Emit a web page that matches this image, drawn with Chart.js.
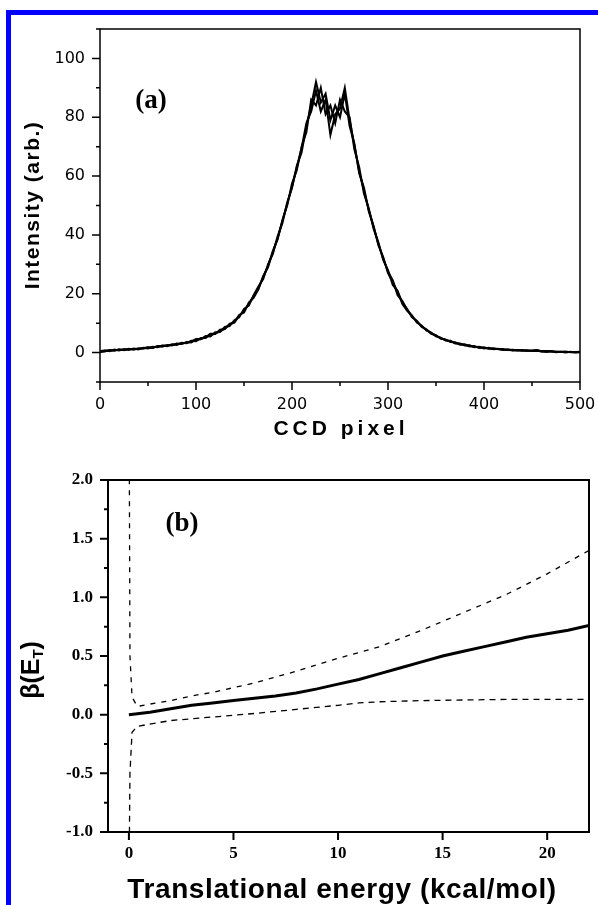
<!DOCTYPE html>
<html><head><meta charset="utf-8">
<script src="https://cdn.jsdelivr.net/npm/chart.js@4.4.1/dist/chart.umd.min.js"></script>
<style>
html,body{margin:0;padding:0;background:#fff;overflow:hidden;width:598px;height:905px}
#frame{position:absolute;left:6px;top:10px;width:700px;height:1000px;border-left:5px solid #0000ff;border-top:5px solid #0000ff;box-sizing:border-box}
#ca{position:absolute;left:0;top:0}
#cb{position:absolute;left:0;top:440px}
</style></head><body>
<div id="frame"></div>
<canvas id="ca" width="598" height="450"></canvas>
<canvas id="cb" width="598" height="465"></canvas>
<script>
// ---------- Panel (a) data ----------
const pixel = [0,5,10,15,20,25,30,35,40,45,50,55,60,65,70,75,80,85,90,95,100,105,110,115,120,125,130,135,140,145,150,155,160,165,170,175,180,185,190,195,200,205,210,215,220,225,230,235,240,245,250,255,260,265,270,275,280,285,290,295,300,305,310,315,320,325,330,335,340,345,350,355,360,365,370,375,380,385,390,395,400,405,410,415,420,425,430,435,440,445,450,455,460,465,470,475,480,485,490,495,500];
const trace1 = [0.2,0.4,0.9,0.6,1.1,0.8,1.3,1.0,1.5,1.3,1.8,1.6,2.2,2.0,2.6,2.4,3.1,2.9,3.6,3.4,4.4,4.5,5.6,5.5,6.9,7.0,8.7,9.0,11.0,12.0,14.8,16.0,19.5,22.5,25.0,30.0,33.5,39.5,44.0,51.0,56.0,63.5,68.0,77.0,84.0,92.0,85.0,88.0,79.0,84.0,80.0,88.0,77.0,71.0,61.0,56.0,48.0,43.0,36.5,32.5,27.0,24.0,20.5,17.0,14.8,12.0,10.8,8.8,7.9,6.4,5.9,4.7,4.5,3.6,3.5,2.7,2.8,2.1,2.2,1.6,1.8,1.3,1.5,1.1,1.2,0.9,1.0,0.7,0.9,0.6,0.7,0.8,0.3,0.4,0.4,0.3,0.2,0.4,0.1,0.2,0.3];
const trace2 = [0.5,0.7,0.5,1.0,0.7,1.2,0.9,1.4,1.1,1.6,1.4,2.0,1.8,2.4,2.2,2.8,2.6,3.3,3.2,4.0,3.9,5.0,5.0,6.2,6.3,7.8,8.0,9.8,10.4,12.8,13.6,17.0,18.6,21.5,26.0,29.0,34.5,38.5,45.0,50.0,57.5,62.0,70.0,75.0,86.0,84.0,90.0,81.0,84.0,78.0,86.0,82.0,80.0,69.0,63.0,54.0,49.0,42.0,37.5,31.5,28.0,23.0,21.0,16.5,14.2,12.6,10.2,9.2,7.5,6.8,5.5,5.1,4.1,4.0,3.1,3.1,2.4,2.5,1.8,2.0,1.4,1.6,1.1,1.3,0.9,1.1,0.7,0.9,0.6,0.8,0.5,0.6,0.5,0.2,0.5,0.1,0.3,0.0,0.3,0.0,0.1];
const trace3 = [0.3,0.6,0.7,0.8,1.0,0.9,1.2,1.2,1.2,1.6,1.7,1.7,2.1,2.3,2.3,2.7,2.8,3.1,3.3,3.7,4.6,4.6,5.2,6.4,6.5,7.2,8.1,9.6,10.2,12.6,14.0,16.6,19.2,21.8,25.8,29.4,34.2,38.8,44.8,50.6,56.2,63.0,69.5,78.0,82.0,89.0,82.0,86.0,74.0,81.0,83.0,90.0,79.0,70.5,61.5,55.0,48.5,42.8,36.8,32.0,27.5,24.5,19.5,17.5,14.5,12.3,10.6,8.9,7.7,6.6,5.7,4.9,4.3,3.8,3.3,2.9,2.6,2.3,2.0,1.8,1.6,1.4,1.3,1.2,1.0,0.9,0.8,0.8,0.7,0.6,0.6,0.9,0.5,0.5,0.4,0.3,0.3,0.2,0.2,0.1,0.2];
const xTicksA = [0,100,200,300,400,500];
const xMinorA = [50,150,250,350,450];
const yTicksA = [0,20,40,60,80,100];
const yMinorA = [-10,10,30,50,70,90,110];

// ---------- Panel (b) data ----------
const energy = [0,1,2,3,4,5,6,7,8,9,10,11,12,13,14,15,16,17,18,19,20,21,22];
const beta   = [0,0.02,0.05,0.08,0.10,0.12,0.14,0.16,0.185,0.22,0.26,0.30,0.35,0.40,0.45,0.50,0.54,0.58,0.62,0.66,0.69,0.72,0.76];
const upperE = [0.02,0.05,0.15,0.4,1,2,3,4,6,8,10,12,14,16,18,20,22];
const upperB = [2.1,0.5,0.15,0.07,0.09,0.12,0.16,0.19,0.27,0.37,0.48,0.58,0.72,0.87,1.02,1.2,1.4];
const lowerE = [0.02,0.05,0.15,0.4,1,2,4,6,8,10,11,12,14,16,18,20,22];
const lowerB = [-1.1,-0.5,-0.15,-0.1,-0.08,-0.05,-0.02,0.01,0.045,0.08,0.10,0.11,0.12,0.125,0.13,0.13,0.13];
const xTicksB = [0,5,10,15,20];
const yTicksB = [-1.0,-0.5,0.0,0.5,1.0,1.5,2.0];
const yMinorB = [-0.75,-0.25,0.25,0.75,1.25,1.75];

const pts = (xs, ys) => xs.map((x, i) => ({x, y: ys[i]}));

function framePlugin(o) {
  return {
    id: 'frame_' + o.name,
    afterDraw(chart) {
      const ctx = chart.ctx, a = chart.chartArea, xs = chart.scales.x, ys = chart.scales.y;
      ctx.save();
      ctx.strokeStyle = '#000';
      ctx.lineWidth = o.lw;
      ctx.strokeRect(a.left, a.top, a.right - a.left, a.bottom - a.top);
      ctx.beginPath();
      o.xMajor.forEach(v => { const p = xs.getPixelForValue(v); ctx.moveTo(p, a.bottom); ctx.lineTo(p, a.bottom + o.major); });
      o.xMinor.forEach(v => { const p = xs.getPixelForValue(v); ctx.moveTo(p, a.bottom); ctx.lineTo(p, a.bottom + o.minor); });
      o.yMajor.forEach(v => { const p = ys.getPixelForValue(v); ctx.moveTo(a.left, p); ctx.lineTo(a.left - o.major, p); });
      o.yMinor.forEach(v => { const p = ys.getPixelForValue(v); ctx.moveTo(a.left, p); ctx.lineTo(a.left - o.minor, p); });
      ctx.stroke();
      ctx.fillStyle = '#000';
      o.texts.forEach(t => {
        ctx.save();
        ctx.font = t.font;
        ctx.letterSpacing = (t.ls || 0) + 'px';
        ctx.translate(t.x, t.y);
        if (t.rot) ctx.rotate(t.rot);
        ctx.textBaseline = 'middle';
        if (t.parts) {
          let total = 0;
          t.parts.forEach(p => { ctx.font = p.font; total += ctx.measureText(p.s).width; });
          let x = -total / 2;
          ctx.textAlign = 'left';
          t.parts.forEach(p => { ctx.font = p.font; ctx.fillText(p.s, x, p.dy || 0); x += ctx.measureText(p.s).width; });
        } else {
          ctx.textAlign = 'center';
          ctx.fillText(t.s, 0, 0);
        }
        ctx.restore();
      });
      ctx.restore();
    }
  };
}

const lineDs = (data, w, dash) => ({
  data, borderColor: '#000', borderWidth: w, borderDash: dash || [], pointRadius: 0,
  showLine: true, tension: 0, fill: false
});

// ---------- Chart (a) ----------
new Chart(document.getElementById('ca'), {
  type: 'scatter',
  data: { datasets: [
    lineDs(pts(pixel, trace1), 2),
    lineDs(pts(pixel, trace2), 2),
    lineDs(pts(pixel, trace3), 2)
  ]},
  options: {
    responsive: false, animation: false, devicePixelRatio: 1,
    layout: { padding: { top: 29, right: 18, left: 0, bottom: 0 } },
    plugins: { legend: { display: false }, tooltip: { enabled: false } },
    scales: {
      x: {
        type: 'linear', min: 0, max: 500,
        grid: { display: false }, border: { display: false },
        afterBuildTicks: s => { s.ticks = xTicksA.map(v => ({value: v})); },
        afterFit: s => { s.height = 68; s.paddingLeft = 0; s.paddingRight = 0; },
        ticks: { color: '#000', font: { family: 'DejaVu Sans', size: 16 }, padding: 5, maxRotation: 0, autoSkip: false }
      },
      y: {
        type: 'linear', min: -10, max: 110,
        grid: { display: false }, border: { display: false },
        afterBuildTicks: s => { s.ticks = yTicksA.map(v => ({value: v})); },
        afterFit: s => { s.width = 100; s.paddingTop = 0; s.paddingBottom = 0; },
        ticks: { color: '#000', font: { family: 'DejaVu Sans', size: 16 }, padding: 7, autoSkip: false }
      }
    }
  },
  plugins: [framePlugin({
    name: 'a', lw: 1.5, major: 8, minor: 4,
    xMajor: xTicksA, xMinor: xMinorA, yMajor: yTicksA, yMinor: yMinorA,
    texts: [
      { s: 'Intensity (arb.)', font: 'bold 21px "Liberation Sans"', ls: 1.5, x: 33, y: 205, rot: -Math.PI / 2 },
      { s: 'CCD pixel', font: 'bold 21px "Liberation Sans"', ls: 4, x: 341, y: 429 },
      { s: '(a)', font: 'bold 27px "Liberation Serif"', x: 151, y: 101 }
    ]
  })]
});

// ---------- Chart (b) ----------
new Chart(document.getElementById('cb'), {
  type: 'scatter',
  data: { datasets: [
    lineDs(pts(upperE, upperB), 1.3, [5, 6]),
    lineDs(pts(lowerE, lowerB), 1.3, [6, 5]),
    lineDs(pts(energy, beta), 3)
  ]},
  options: {
    responsive: false, animation: false, devicePixelRatio: 1,
    layout: { padding: { top: 40, right: 9, left: 0, bottom: 0 } },
    plugins: { legend: { display: false }, tooltip: { enabled: false } },
    scales: {
      x: {
        type: 'linear', min: -1, max: 22,
        grid: { display: false }, border: { display: false },
        afterBuildTicks: s => { s.ticks = xTicksB.map(v => ({value: v})); },
        afterFit: s => { s.height = 73; s.paddingLeft = 0; s.paddingRight = 0; },
        ticks: { color: '#000', font: { family: 'Liberation Serif', size: 17, weight: 'bold' }, padding: 3, maxRotation: 0, autoSkip: false }
      },
      y: {
        type: 'linear', min: -1, max: 2,
        grid: { display: false }, border: { display: false },
        afterBuildTicks: s => { s.ticks = yTicksB.map(v => ({value: v})); },
        afterFit: s => { s.width = 108; s.paddingTop = 0; s.paddingBottom = 0; },
        ticks: { color: '#000', font: { family: 'Liberation Serif', size: 17, weight: 'bold' }, padding: 7, autoSkip: false,
                 callback: v => Number(v).toFixed(1) }
      }
    }
  },
  plugins: [framePlugin({
    name: 'b', lw: 2, major: 8, minor: 4,
    xMajor: xTicksB, xMinor: [], yMajor: yTicksB, yMinor: yMinorB,
    texts: [
      { parts: [
          { s: 'β(E', font: 'bold 25px "Liberation Sans"' },
          { s: 'T', font: 'bold 15px "Liberation Sans"', dy: 7 },
          { s: ')', font: 'bold 25px "Liberation Sans"' }
        ], x: 32, y: 230, rot: -Math.PI / 2 },
      { s: 'Translational energy (kcal/mol)', font: 'bold 28px "Liberation Sans"', ls: 0.6, x: 342, y: 450 },
      { s: '(b)', font: 'bold 27px "Liberation Serif"', x: 182, y: 84 }
    ]
  })]
});
</script>
</body></html>
